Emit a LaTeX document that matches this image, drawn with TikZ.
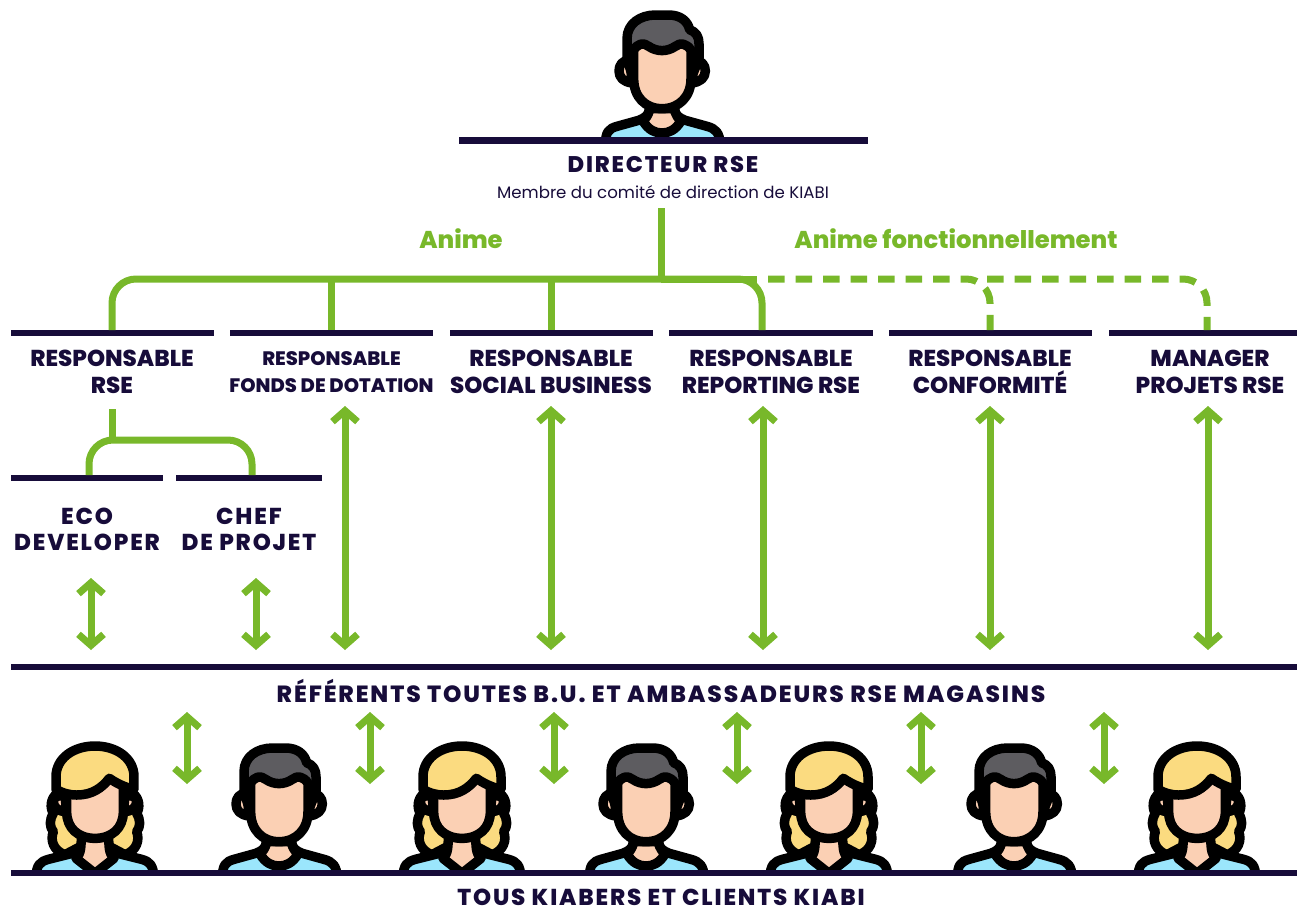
\documentclass[tikz,border=0pt]{standalone}
\usepackage{fontspec}
\setmainfont[BoldFont={Poppins ExtraBold}]{Poppins}
\newfontfamily\sphead[LetterSpace=8,UprightFont={Poppins ExtraBold}]{Poppins}
\usetikzlibrary{arrows.meta}
\definecolor{navy}{HTML}{170C3A}
\definecolor{grn}{HTML}{78B82A}
\definecolor{skin}{HTML}{FBD0B4}
\definecolor{shirt}{HTML}{9BE6FC}
\definecolor{hairm}{HTML}{5D5C60}
\definecolor{hairw}{HTML}{FBDB80}
\tikzset{
  bar/.style={fill=navy,inner sep=0pt,minimum height=6.5pt,anchor=west},
  head/.style={text=navy,font=\bfseries\fontsize{23}{27}\selectfont,align=center,inner sep=0pt},
  widehead/.style={text=navy,font=\sphead\fontsize{23}{26.5}\selectfont,align=center,inner sep=0pt},
  smallhead/.style={text=navy,font=\bfseries\fontsize{19.5}{27}\selectfont,align=center,inner sep=0pt},
  grnlabel/.style={text=grn,font=\bfseries\fontsize{24.3}{27}\selectfont,inner sep=0pt},
  tree/.style={draw=grn,line width=7pt,rounded corners=24pt},
  stem/.style={draw=grn,line width=7pt},
  dashtree/.style={draw=grn,line width=7pt,rounded corners=24pt,dash pattern=on 16.5pt off 11pt},
  twoway/.style={draw=grn,line width=7pt,{Straight Barb[length=11pt,width=25pt,line width=7pt]}-{Straight Barb[length=11pt,width=25pt,line width=7pt]}},
  ol/.style={draw=black,line width=9.5pt,line join=round,line cap=round},
  man/.pic={
    \begin{scope}[x=0.3333pt,y=-0.3333pt,shift={(-245,-410)}]
      \clip (-100,0) rectangle (600,416);
      \path[ol,fill=shirt] (75,435) .. controls (75,395) and (85,385) .. (110,378) -- (175,360) .. controls (195,352) and (205,345) .. (208,325) -- (282,325) .. controls (285,345) and (295,352) .. (315,360) -- (380,378) .. controls (405,385) and (418,395) .. (420,435) -- cycle;
      \path[ol,fill=skin] (208,325) .. controls (205,345) and (195,355) .. (188,362) .. controls (205,390) and (225,398) .. (245,398) .. controls (265,398) and (285,390) .. (302,362) .. controls (295,355) and (285,345) .. (282,325) -- cycle;
      \path[ol,fill=skin] (150,178) .. controls (125,180) and (116,195) .. (116,212) .. controls (116,232) and (130,245) .. (155,248) -- cycle;
      \path[ol,fill=skin] (340,178) .. controls (365,180) and (375,195) .. (375,212) .. controls (375,232) and (360,245) .. (335,248) -- cycle;
      \path[ol,fill=hairm] (140,175) -- (140,115) .. controls (140,70) and (180,44) .. (225,44) -- (265,44) .. controls (300,44) and (322,62) .. (328,88) .. controls (348,95) and (356,110) .. (356,130) -- (356,175) -- (330,240) -- (160,240) -- cycle;
      \path[ol,fill=skin] (160,150) .. controls (170,130) and (190,125) .. (205,138) .. controls (230,155) and (260,155) .. (285,138) .. controls (300,125) and (320,130) .. (332,150) -- (332,235) .. controls (332,290) and (295,325) .. (245,325) .. controls (195,325) and (160,290) .. (160,235) -- cycle;
    \end{scope}
  },
  woman/.pic={
    \begin{scope}[x=0.3333pt,y=-0.3333pt,shift={(-225,-420)}]
      \clip (-100,0) rectangle (600,426);
      \path[ol,fill=shirt] (48,445) .. controls (48,405) and (60,395) .. (85,388) -- (165,368) -- (285,368) -- (365,388) .. controls (390,395) and (400,405) .. (402,445) -- cycle;
      \path[ol,fill=hairw] (112,190) .. controls (90,205) and (90,235) .. (100,250) .. controls (88,270) and (88,290) .. (100,305) .. controls (90,330) and (100,362) .. (135,374) -- (190,345) -- (260,345) -- (315,374) .. controls (350,362) and (360,330) .. (350,305) .. controls (362,290) and (362,270) .. (350,250) .. controls (360,235) and (360,205) .. (338,190) -- cycle;
      \path[ol,fill=skin] (185,320) -- (182,355) .. controls (180,370) and (175,378) .. (168,385) -- (225,430) -- (282,385) .. controls (275,378) and (270,370) .. (268,355) -- (265,320) -- cycle;
      \path[ol,fill=skin] (135,198) .. controls (110,192) and (100,205) .. (100,215) .. controls (100,232) and (115,245) .. (140,245) -- cycle;
      \path[ol,fill=skin] (315,198) .. controls (340,192) and (350,205) .. (350,215) .. controls (350,232) and (335,245) .. (310,245) -- cycle;
      \path[ol,fill=skin] (140,175) -- (140,245) .. controls (140,295) and (175,325) .. (225,325) .. controls (275,325) and (310,295) .. (310,245) -- (310,150) -- (225,130) -- cycle;
      \path[ol,fill=hairw] (108,178) -- (108,140) .. controls (108,85) and (160,48) .. (225,48) .. controls (290,48) and (342,85) .. (342,140) -- (342,178) .. controls (315,172) and (290,160) .. (268,145) .. controls (245,175) and (215,195) .. (170,195) .. controls (145,195) and (125,188) .. (108,178) -- cycle;
    \end{scope}
  }
}
\begin{document}
\begin{tikzpicture}[x=1pt,y=-1pt]
\useasboundingbox (0,0) rectangle (1297,907);
\pic (topman) at (662,137) {man};
\foreach \n/\x in {w1/95,w2/462,w3/829,w4/1197} \pic (\n) at (\x,870) {woman};
\foreach \n/\x in {m1/279,m2/646,m3/1014} \pic (\n) at (\x,870) {man};
\node[bar,minimum width=409pt] (bartop) at (459,140.5) {};
\node[bar,minimum width=203pt] (b1) at (11,333) {};
\node[bar,minimum width=203pt] (b2) at (230,333) {};
\node[bar,minimum width=203pt] (b3) at (450,333) {};
\node[bar,minimum width=204pt] (b4) at (669,333) {};
\node[bar,minimum width=203pt] (b5) at (889,333) {};
\node[bar,minimum width=188pt] (b6) at (1109,333) {};
\node[bar,minimum width=152pt] (b7) at (11,478) {};
\node[bar,minimum width=146pt] (b8) at (176,478) {};
\node[bar,minimum width=1286pt] (barref) at (11,667) {};
\node[bar,minimum width=1286pt] (barall) at (11,873) {};
\node[widehead,font=\sphead\fontsize{22.6}{26.5}\selectfont] (tdir) at (663,164) {DIRECTEUR RSE};
\node[text=navy,font=\fontsize{16.6}{20}\selectfont,inner sep=0pt] (tsub) at (663,192) {Membre du comité de direction de KIABI};
\node[grnlabel] (tanime) at (461,239) {Anime};
\node[grnlabel] (tfonc) at (956,239) {Anime fonctionnellement};
\node[head] (t1) at (112,372) {RESPONSABLE\\RSE};
\node[smallhead] (t2) at (331.5,372) {RESPONSABLE\\FONDS DE DOTATION};
\node[head] (t3) at (551,372) {RESPONSABLE\\SOCIAL BUSINESS};
\node[head] (t4) at (771,372) {RESPONSABLE\\REPORTING RSE};
\node[head] (t5) at (990,372) {RESPONSABLE\\CONFORMITÉ};
\node[head] (t6) at (1210,372) {MANAGER\\PROJETS RSE};
\node[widehead] (t7) at (87,529.5) {ECO\\DEVELOPER};
\node[widehead] (t8) at (249,529.5) {CHEF\\DE PROJET};
\node[widehead,font=\sphead\fontsize{23.4}{26.5}\selectfont] (tref) at (661,690.5) {RÉFÉRENTS TOUTES B.U. ET AMBASSADEURS RSE MAGASINS};
\node[widehead] (tall) at (661,897) {TOUS KIABERS ET CLIENTS KIABI};
\coordinate (root) at (661,208);
\coordinate (hub) at (661,279);
\coordinate (c1) at (112,330);
\coordinate (c2) at (331,330);
\coordinate (c3) at (551,330);
\coordinate (c4) at (762,330);
\coordinate (c5) at (990,330);
\coordinate (c6) at (1207,330);
\coordinate (d00) at (757,279);
\coordinate (d0) at (768,279);
\coordinate (d1) at (987,279);
\coordinate (s0) at (112,409);
\coordinate (s1) at (89,475);
\coordinate (s2) at (252,475);
\coordinate (sm) at (112,440);
\draw[tree] (c1) -- (c1|-hub) -- (c4|-hub) -- (c4);
\draw[stem] (hub) -- (d00);
\draw[stem] (root) -- (hub);
\draw[stem] (hub -| c2) -- (c2);
\draw[stem] (hub -| c3) -- (c3);
\draw[dashtree] (d0) -- (c5|-hub) -- (c5);
\draw[dashtree] (d1) -- (c6|-hub) -- (c6);
\draw[tree] (s1) -- (s1|-sm) -- (s2|-sm) -- (s2);
\draw[stem] (s0) -- (sm);
\foreach \n/\x/\ya/\yb in {e/91/578/650,f/256/578/650,g/345/406/650,h/551/406/650,i/763/406/650,j/990/406/650,k/1208/406/650,l/187/712/784,m/370/712/784,n/554/712/784,o/737/712/784,p/921/712/784,q/1104/712/784}{
  \coordinate (\n a) at (\x,\ya);
  \coordinate (\n b) at (\x,\yb);
  \draw[twoway] (\n a) -- (\n b);
}
\end{tikzpicture}
\end{document}
